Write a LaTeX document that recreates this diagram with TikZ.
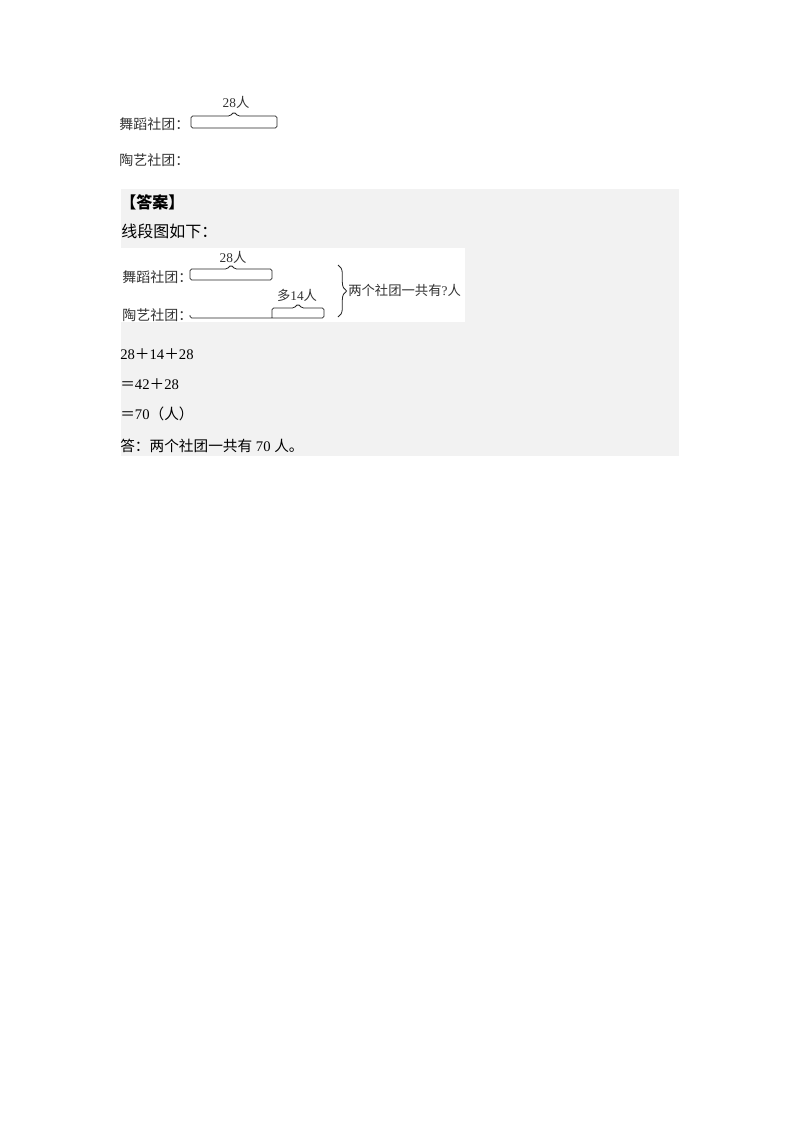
\documentclass[tikz,border=0pt]{standalone}
\usepackage{fontspec}
\setmainfont{Liberation Serif}
\newfontfamily\cjk{Noto Sans CJK SC}
\usetikzlibrary{calc, positioning}
\usetikzlibrary{decorations.pathreplacing}

\definecolor{answerbg}{HTML}{F2F2F2}

\tikzset{
  label text/.style={inner sep=0, text=black!80, font=\fontsize{10}{12}\selectfont},
  club text/.style={inner sep=0, text=black!80, font=\cjk\fontsize{10.5}{12}\selectfont},
  answer text/.style={inner sep=0, text=black, font=\fontsize{11}{13}\selectfont},
  head text/.style={inner sep=0, text=black, font=\cjk\fontsize{12}{14}\selectfont},
  segment/.style={line width=0.6pt, black!85, rounded corners=1.2},
}

\begin{document}
\begin{tikzpicture}[x=0.75pt, y=-0.75pt]

  \useasboundingbox (0,0) rectangle (800,1132);

  % question part
  \node (q-dance)   [club text, anchor=west] at (119,124) {舞蹈社团：};
  \node (q-pottery) [club text, anchor=west] at (119,160) {陶艺社团：};

  \coordinate (q-left)  at (191,128);
  \coordinate (q-right) at (277,128);
  \coordinate (q-mid)   at ($(q-left)!0.5!(q-right)$);
  \draw[segment] (q-left)
  to (q-right)
  to ($(q-right)+(0,-12)$)
  to ($(q-mid)+(4,-12)$)
  to ($(q-mid)+(0,-16)$)
  to ($(q-mid)+(-4,-12)$)
  to ($(q-left)+(0,-12)$)
  to cycle;
  \node (q-count) [label text] at (236,102) {28{\cjk 人}};

  % answer background
  \fill[answerbg] (121,189) rectangle (679,456);
  \fill[white] (121,248) rectangle (465,322);

  \node (a-title) [head text, anchor=west] at (120,202) {\bfseries 【答案】};
  \node (a-intro) [head text, anchor=west] at (121,231) {线段图如下：};

  % line diagram
  \node (dance)   [club text, anchor=west] at (122,277) {舞蹈社团：};
  \node (pottery) [club text, anchor=west] at (122,315) {陶艺社团：};

  \coordinate (dance-left)  at (190,280);
  \coordinate (dance-right) at (272,280);
  \coordinate (dance-mid)   at ($(dance-left)!0.5!(dance-right)$);
  \draw[segment] (dance-left)
  to (dance-right)
  to ($(dance-right)+(0,-11)$)
  to ($(dance-mid)+(4,-11)$)
  to ($(dance-mid)+(0,-15)$)
  to ($(dance-mid)+(-4,-11)$)
  to ($(dance-left)+(0,-11)$)
  to cycle;
  \node (dance-count) [label text] at (233,257) {28{\cjk 人}};

  \coordinate (pottery-left)  at (190,318);
  \coordinate (pottery-mid)   at (272,318);
  \coordinate (pottery-right) at (324,318);
  \coordinate (extra-mid)     at ($(pottery-mid)!0.5!(pottery-right)$);
  \draw[segment] ($(pottery-left)+(0,-3)$)
  to (pottery-left)
  to (pottery-right)
  to ($(pottery-right)+(0,-10)$)
  to ($(extra-mid)+(4,-10)$)
  to ($(extra-mid)+(0,-14)$)
  to ($(extra-mid)+(-4,-10)$)
  to ($(pottery-mid)+(0,-10)$)
  to (pottery-mid);
  \node (extra-count) [label text] at (297,295) {{\cjk 多}14{\cjk 人}};

  % total brace
  \coordinate (total-top)    at (338,265);
  \coordinate (total-bottom) at (338,317);
  \draw[line width=0.6pt, black!85, decorate, decoration={brace, amplitude=6.5pt}]
  (total-top) to (total-bottom);
  \node (total) [label text, anchor=west] at (348,290) {{\cjk 两个社团一共有}?{\cjk 人}};

  % calculation
  \node (calc-1) [answer text, anchor=west] at (120,354) {28{\cjk ＋}14{\cjk ＋}28};
  \node (calc-2) [answer text, anchor=west] at (120,384) {{\cjk ＝}42{\cjk ＋}28};
  \node (calc-3) [answer text, anchor=west] at (120,414) {{\cjk ＝}70{\cjk （人）}};
  \node (reply)  [answer text, anchor=west] at (120,446) {{\cjk 答：两个社团一共有} 70 {\cjk 人。}};

\end{tikzpicture}
\end{document}
